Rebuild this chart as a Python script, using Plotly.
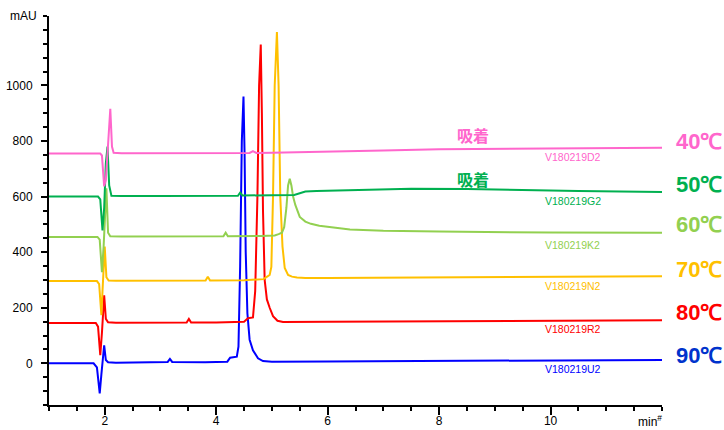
import plotly.graph_objects as go

# ---- data (time in min, signal in mAU) ----
t90 = [1.00, 1.80, 1.86, 1.89, 1.91, 1.94, 1.97, 1.99, 2.02, 2.06, 2.20, 3.00, 3.13, 3.17, 3.21, 3.80, 4.20, 4.25, 4.30, 4.37, 4.40, 4.43, 4.46, 4.49, 4.51, 4.53, 4.56, 4.60, 4.66, 4.75, 4.84, 5.00, 6.00, 8.00, 10.00, 12.00]
y90 = [0, 0, -15, -80, -108, -40, 40, 65, 12, 4, 2, 3, 5, 16, 5, 4, 6, 20, 21, 24, 60, 350, 800, 960, 750, 400, 180, 85, 47, 18, 8, 6, 7, 9, 11, 12]

t80 = [1.00, 1.84, 1.88, 1.90, 1.92, 1.95, 1.975, 1.99, 2.02, 2.06, 2.20, 3.00, 3.47, 3.51, 3.55, 4.00, 4.50, 4.57, 4.66, 4.70, 4.74, 4.77, 4.80, 4.82, 4.84, 4.87, 4.91, 4.96, 5.02, 5.10, 5.20, 6.00, 8.00, 10.00, 12.00]
y80 = [145, 145, 132, 70, 29, 110, 220, 245, 160, 148, 146, 146, 147, 160, 147, 147, 150, 162, 165, 260, 600, 1000, 1147, 900, 550, 300, 230, 200, 170, 153, 149, 150, 152, 154, 155]

t70 = [1.00, 1.86, 1.90, 1.92, 1.94, 1.96, 1.985, 2.00, 2.03, 2.07, 2.20, 3.00, 3.81, 3.85, 3.89, 4.50, 4.85, 4.90, 4.96, 4.99, 5.02, 5.05, 5.09, 5.12, 5.15, 5.19, 5.23, 5.29, 5.36, 5.45, 5.60, 6.00, 8.00, 10.00, 12.00]
y70 = [296, 296, 285, 230, 173, 260, 400, 420, 310, 298, 297, 297, 298, 312, 298, 299, 303, 310, 318, 347, 600, 1000, 1192, 1000, 600, 420, 343, 318, 312, 309, 307, 307, 309, 311, 313]

t60 = [1.00, 1.87, 1.91, 1.93, 1.95, 1.98, 2.01, 2.03, 2.06, 2.10, 2.30, 3.00, 4.13, 4.17, 4.21, 4.80, 5.05, 5.12, 5.18, 5.22, 5.26, 5.29, 5.32, 5.35, 5.38, 5.42, 5.50, 5.60, 5.70, 5.85, 6.00, 6.40, 7.00, 8.00, 10.00, 12.00]
y60 = [455, 455, 445, 390, 328, 420, 580, 630, 470, 457, 456, 456, 457, 470, 457, 458, 460, 465, 470, 490, 560, 640, 664, 640, 600, 570, 527, 510, 502, 495, 491, 482, 477, 474, 471, 470]

t50 = [1.00, 1.88, 1.92, 1.94, 1.96, 1.99, 2.02, 2.05, 2.08, 2.12, 2.30, 3.00, 4.00, 4.39, 4.43, 4.47, 5.00, 5.40, 5.50, 5.60, 5.80, 6.50, 7.50, 8.50, 9.50, 10.50, 12.00]
y50 = [600, 600, 590, 530, 478, 560, 720, 780, 640, 603, 602, 602, 602, 603, 614, 604, 605, 606, 612, 618, 620, 624, 628, 627, 623, 620, 617]

t40 = [1.00, 1.92, 1.95, 1.97, 1.99, 2.02, 2.06, 2.08, 2.10, 2.13, 2.16, 2.30, 3.00, 4.00, 4.60, 4.66, 4.72, 5.00, 6.00, 7.00, 8.00, 9.00, 10.00, 11.00, 12.00]
y40 = [755, 755, 748, 700, 637, 660, 800, 880, 916, 780, 758, 756, 756, 756, 757, 764, 757, 758, 761, 766, 770, 772, 774, 775, 776]

temps = ["90℃", "80℃", "70℃", "60℃", "50℃", "40℃"]
samples = ["V180219U2", "V180219R2", "V180219N2", "V180219K2", "V180219G2", "V180219D2"]
line_colors = ["#0000FF", "#FF0000", "#FFC000", "#92D050", "#00B050", "#FF66CC"]
label_colors = ["#0033CC", "#FF0000", "#FFC000", "#92D050", "#00B050", "#FF66CC"]
temp_label_y = [29, 184, 339, 498, 643, 798]
sample_label_y = [-22, 123, 278, 426, 585, 744]
sample_label_x = 10.4
adsorb_text = "吸着"
adsorb_x = 8.61
adsorb_y = [823, 664]
adsorb_colors = ["#FF66CC", "#00B050"]
x_ticks = [2, 4, 6, 8, 10]
y_ticks = [0, 200, 400, 600, 800, 1000]

xs = [t90, t80, t70, t60, t50, t40]
ys = [y90, y80, y70, y60, y50, y40]

fig = go.Figure()
for x, y, c, name in zip(xs, ys, line_colors, samples):
    fig.add_trace(go.Scatter(x=x, y=y, mode="lines", line=dict(color=c, width=2), name=name,
                             showlegend=False, hoverinfo="skip"))

ann = []
for tl, sl, c, lc, ty, sy in zip(temps, samples, line_colors, label_colors, temp_label_y, sample_label_y):
    ann.append(dict(x=1.019, xref="paper", y=ty, yref="y", text="<b>" + tl + "</b>", showarrow=False,
                    xanchor="left", yanchor="middle",
                    font=dict(size=22, color=lc, family="Liberation Sans, Arial, sans-serif")))
    ann.append(dict(x=sample_label_x, xref="x", y=sy, yref="y", text=sl, showarrow=False,
                    xanchor="center", yanchor="middle",
                    font=dict(size=10.5, color=c, family="Liberation Sans, Arial, sans-serif")))
for ay, ac in zip(adsorb_y, adsorb_colors):
    ann.append(dict(x=adsorb_x, xref="x", y=ay, yref="y", text="<b>" + adsorb_text + "</b>", showarrow=False,
                    xanchor="center", yanchor="middle",
                    font=dict(size=16, color=ac, family="Noto Sans CJK JP, sans-serif")))
ann.append(dict(x=-0.042, xref="paper", y=1.0, yref="paper", text="mAU", showarrow=False,
                xanchor="center", yanchor="middle", font=dict(size=12, color="#000")))
ann.append(dict(x=1.003, xref="paper", y=-0.04, yref="paper", text="min<sup>#</sup>", showarrow=False,
                xanchor="right", yanchor="middle", font=dict(size=12, color="#000")))

fig.update_layout(
    width=724, height=430,
    margin=dict(l=49, r=62, t=16, b=25),
    plot_bgcolor="white", paper_bgcolor="white",
    font=dict(family="Liberation Sans, Arial, sans-serif", size=12, color="#000"),
    annotations=ann,
    xaxis=dict(range=[1, 12], showgrid=False, zeroline=False, showline=True, linecolor="#000", linewidth=2,
               automargin=False,
               tickmode="array", tickvals=x_ticks,
               ticks="outside", ticklen=8, tickwidth=1.5, tickcolor="#000",
               minor=dict(dtick=0.5, tick0=0, ticks="outside", ticklen=4, tickwidth=1.5, tickcolor="#000"),
               tickfont=dict(size=12), ticklabelstandoff=-4),
    yaxis=dict(range=[-150, 1250], showgrid=False, zeroline=False, showline=True, linecolor="#000", linewidth=2,
               automargin=False,
               tickmode="array", tickvals=y_ticks,
               ticks="outside", ticklen=6, tickwidth=1.5, tickcolor="#000",
               minor=dict(dtick=50, tick0=0, ticks="outside", ticklen=4, tickwidth=1.5, tickcolor="#000"),
               tickfont=dict(size=12), ticklabelstandoff=6),
)

fig.write_html("out.html", config={"displayModeBar": False},
               post_script="document.body.style.margin='0px';document.body.style.overflow='hidden';")
